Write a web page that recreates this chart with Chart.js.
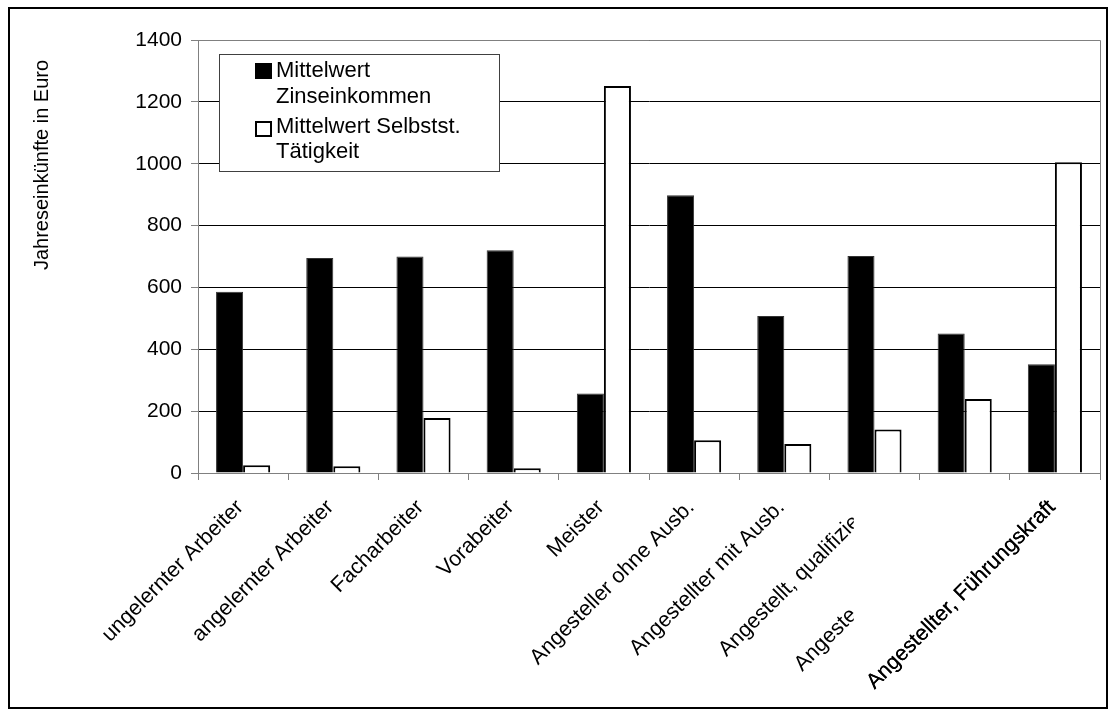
<!DOCTYPE html>
<html lang="de">
<head>
<meta charset="utf-8">
<title>Jahreseinkünfte nach beruflicher Stellung</title>
<script src="https://cdn.jsdelivr.net/npm/chart.js@4.4.1/dist/chart.umd.min.js"></script>
<style>
  html, body { margin: 0; padding: 0; background: #fff; }
  canvas { display: block; }
</style>
</head>
<body>
<canvas id="chart" width="1117" height="720"></canvas>
<script>
// Berufliche Stellung (Achsenbeschriftung, letzte Einträge sind abgeschnitten dargestellt)
const categories = [
  'ungelernter Arbeiter',
  'angelernter Arbeiter',
  'Facharbeiter',
  'Vorabeiter',
  'Meister',
  'Angesteller ohne Ausb.',
  'Angestellter mit Ausb.',
  'Angestellt, qualifizie',
  'Angeste',
  'Angestellter, Führungskraft'
];
// Indizes der Beschriftungen, die am rechten Rand abgeschnitten werden
const clippedLabels = [7, 8];

const seriesNames = [
  ['Mittelwert', 'Zinseinkommen'],
  ['Mittelwert Selbstst.', 'Tätigkeit']
];

// Jahreseinkünfte in Euro
const zinseinkommen = [586, 695, 700, 720, 257, 898, 508, 702, 451, 352];
const selbststaendig = [25, 22, 178, 15, 1251, 106, 94, 141, 239, 1005];

const yTicks = [0, 200, 400, 600, 800, 1000, 1200, 1400];
const yTitle = 'Jahreseinkünfte in Euro';

const FONT = '"Liberation Sans", Arial, Helvetica, sans-serif';
const AXIS_GREY = '#808080';

const decorations = {
  id: 'decorations',
  afterDraw(chart) {
    const ctx = chart.ctx;
    const area = chart.chartArea;
    const xs = chart.scales.x;

    ctx.save();

    // Rahmen um das gesamte Diagramm
    ctx.strokeStyle = '#000';
    ctx.lineWidth = 2;
    ctx.strokeRect(9, 8, chart.width - 19, chart.height - 20);

    // Rahmen der Zeichenfläche (oben und rechts)
    ctx.strokeStyle = AXIS_GREY;
    ctx.lineWidth = 1;
    ctx.beginPath();
    ctx.moveTo(area.left, area.top + 0.5);
    ctx.lineTo(area.right + 0.5, area.top + 0.5);
    ctx.lineTo(area.right + 0.5, area.bottom);
    ctx.stroke();

    // Legende
    const lx = area.left + 21, ly = area.top + 14, lw = 280, lh = 117;
    ctx.fillStyle = '#fff';
    ctx.fillRect(lx, ly, lw, lh);
    ctx.strokeStyle = '#404040';
    ctx.lineWidth = 1;
    ctx.strokeRect(lx + 0.5, ly + 0.5, lw, lh);

    const ds = chart.data.datasets;
    const swatchTop = [9, 67];
    const baselines = [[23, 49], [79, 104]];
    ctx.font = '22px ' + FONT;
    ctx.textAlign = 'left';
    ctx.textBaseline = 'alphabetic';
    ds.forEach((d, i) => {
      const sx = lx + 36, sy = ly + swatchTop[i];
      if (d.backgroundColor === '#000000') {
        ctx.fillStyle = '#000';
        ctx.fillRect(sx, sy, 17, 16);
      } else {
        ctx.fillStyle = '#fff';
        ctx.fillRect(sx, sy, 17, 16);
        ctx.strokeStyle = '#000';
        ctx.lineWidth = 2;
        ctx.strokeRect(sx + 1, sy + 1, 15, 14);
      }
      ctx.fillStyle = '#000';
      seriesNames[i].forEach((line, j) => {
        ctx.fillText(line, lx + 57, ly + baselines[i][j]);
      });
    });

    // Kategorienbeschriftung, um 45° gedreht
    const catWidth = (xs.right - xs.left) / categories.length;
    const clipX = xs.getPixelForValue(7) - 0.23 * catWidth;
    ctx.font = '21.5px ' + FONT;
    ctx.fillStyle = '#000';
    ctx.textAlign = 'right';
    ctx.textBaseline = 'middle';
    categories.forEach((label, i) => {
      let ax = xs.getPixelForValue(i) - 3;
      let ay = area.bottom + 31;
      ctx.save();
      if (clippedLabels.includes(i)) {
        const endX = clipX + (i === 7 ? 3 : 0);
        const t = ax - endX;
        ax -= t;
        ay += t;
        ctx.beginPath();
        ctx.rect(0, 0, clipX, chart.height);
        ctx.clip();
      }
      ctx.translate(ax, ay);
      ctx.rotate(-Math.PI / 4);
      ctx.fillText(label, 0, 0);
      if (i === categories.length - 1) {
        ctx.fillText(label, 0.25, 0.2);
      }
      ctx.restore();
    });

    // Titel der Werteachse
    ctx.save();
    ctx.font = '20px ' + FONT;
    ctx.textAlign = 'center';
    ctx.textBaseline = 'middle';
    ctx.translate(area.left - 156, area.top + 125);
    ctx.rotate(-Math.PI / 2);
    ctx.fillText(yTitle, 0, 0);
    ctx.restore();

    ctx.restore();
  }
};

new Chart(document.getElementById('chart'), {
  type: 'bar',
  data: {
    labels: categories,
    datasets: [
      {
        label: seriesNames[0].join(' '),
        data: zinseinkommen,
        backgroundColor: '#000000',
        borderColor: '#333333',
        borderWidth: 1,
        categoryPercentage: 0.6,
        barPercentage: 1.0
      },
      {
        label: seriesNames[1].join(' '),
        data: selbststaendig,
        backgroundColor: '#ffffff',
        borderColor: '#000000',
        borderWidth: 2,
        categoryPercentage: 0.6,
        barPercentage: 1.0
      }
    ]
  },
  options: {
    responsive: false,
    animation: false,
    events: [],
    layout: { padding: { top: 40, right: 17, left: 0, bottom: 0 } },
    plugins: {
      legend: { display: false },
      tooltip: { enabled: false },
      title: { display: false }
    },
    scales: {
      x: {
        grid: {
          offset: true,
          drawOnChartArea: false,
          drawTicks: true,
          tickLength: 7,
          color: AXIS_GREY,
          tickColor: AXIS_GREY
        },
        border: { color: AXIS_GREY, width: 1 },
        ticks: { display: false },
        afterFit(scale) { scale.height = 247; }
      },
      y: {
        min: yTicks[0],
        max: yTicks[yTicks.length - 1],
        afterBuildTicks(scale) {
          scale.ticks = yTicks.map(v => ({ value: v }));
        },
        grid: {
          color: c => (c.tick && c.tick.value === 0) ? 'rgba(0,0,0,0)' : '#000000',
          lineWidth: 1,
          drawTicks: true,
          tickLength: 7,
          tickColor: AXIS_GREY
        },
        border: { color: AXIS_GREY, width: 1 },
        ticks: {
          color: '#000',
          padding: 9,
          font: { family: FONT, size: 21 },
          callback: v => String(v)
        },
        afterFit(scale) { scale.width = 198; }
      }
    }
  },
  plugins: [decorations]
});
</script>
</body>
</html>
